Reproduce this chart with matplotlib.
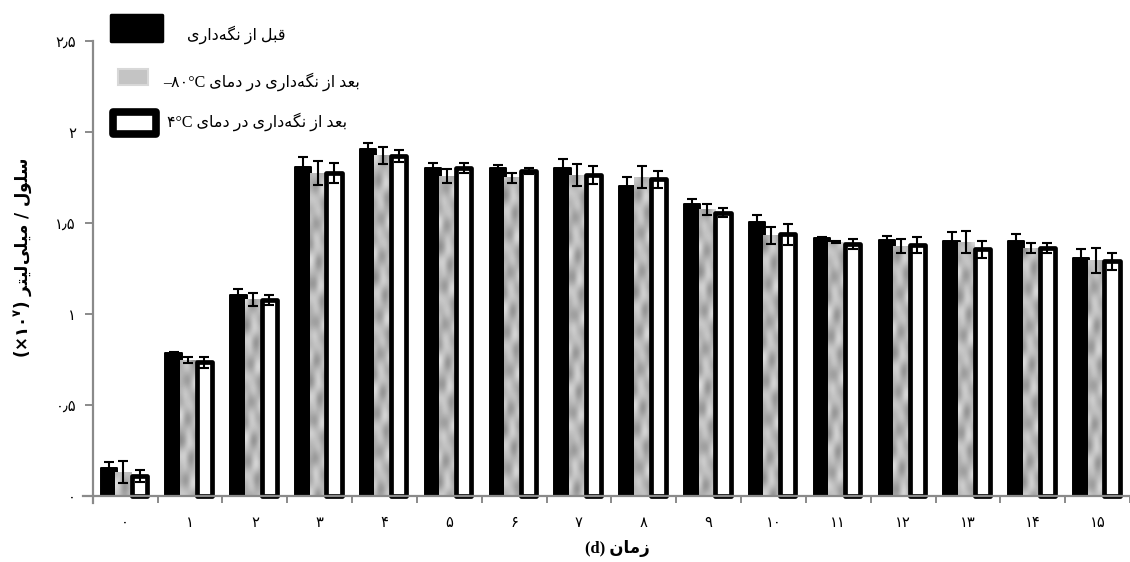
import numpy as np
import matplotlib
matplotlib.use('Agg')
import matplotlib.pyplot as plt
from matplotlib.patches import Rectangle

# Data (cells x10^7 per ml)
days = list(range(16))
day_labels = ['۰', '۱', '۲', '۳', '۴', '۵', '۶', '۷', '۸', '۹',
              '۱۰', '۱۱', '۱۲', '۱۳', '۱۴', '۱۵']
before = [0.15, 0.787, 1.104, 1.805, 1.905, 1.804, 1.80, 1.80,
          1.703, 1.603, 1.504, 1.416, 1.407, 1.401, 1.401, 1.306]
before_err = [0.033, 0.005, 0.031, 0.055, 0.033, 0.027, 0.02, 0.05,
              0.051, 0.031, 0.04, 0.005, 0.022, 0.051, 0.038, 0.049]
frozen = [0.13, 0.747, 1.079, 1.775, 1.871, 1.758, 1.749, 1.763,
          1.752, 1.575, 1.431, 1.396, 1.374, 1.393, 1.363, 1.292]
frozen_err = [0.06, 0.018, 0.035, 0.066, 0.048, 0.037, 0.027, 0.06,
              0.061, 0.03, 0.048, 0.007, 0.037, 0.06, 0.029, 0.069]
fridge = [0.11, 0.733, 1.077, 1.776, 1.868, 1.804, 1.786, 1.764,
          1.74, 1.557, 1.438, 1.383, 1.379, 1.355, 1.364, 1.288]
fridge_err = [0.033, 0.032, 0.027, 0.055, 0.033, 0.027, 0.015, 0.049,
              0.047, 0.024, 0.057, 0.029, 0.046, 0.046, 0.027, 0.046]
y_ticks = [0, 0.5, 1, 1.5, 2, 2.5]
y_labels = ['۰', '۰٫۵', '۱', '۱٫۵', '۲', '۲٫۵']

leg_before = 'قبل از نگه\u200cداری'
leg_after = 'بعد از نگه\u200cداری در دمای'
ylab_text = 'سلول / میلی\u200cلیتر'
xlab_text = 'زمان'

# tiny arabic shaper (matplotlib has no shaping / bidi)
FORMS = {
    'ا': ('\uFE8D', '\uFE8E', None, None),
    'ب': ('\uFE8F', '\uFE90', '\uFE91', '\uFE92'),
    'ت': ('\uFE95', '\uFE96', '\uFE97', '\uFE98'),
    'د': ('\uFEA9', '\uFEAA', None, None),
    'ر': ('\uFEAD', '\uFEAE', None, None),
    'ز': ('\uFEAF', '\uFEB0', None, None),
    'س': ('\uFEB1', '\uFEB2', '\uFEB3', '\uFEB4'),
    'ع': ('\uFEC9', '\uFECA', '\uFECB', '\uFECC'),
    'ق': ('\uFED5', '\uFED6', '\uFED7', '\uFED8'),
    'ل': ('\uFEDD', '\uFEDE', '\uFEDF', '\uFEE0'),
    'م': ('\uFEE1', '\uFEE2', '\uFEE3', '\uFEE4'),
    'ن': ('\uFEE5', '\uFEE6', '\uFEE7', '\uFEE8'),
    'ه': ('\uFEE9', '\uFEEA', '\uFEEB', '\uFEEC'),
    'و': ('\uFEED', '\uFEEE', None, None),
    '\u06CC': ('\uFBFC', '\uFBFD', '\uFBFE', '\uFBFF'),
    'گ': ('\uFB92', '\uFB93', '\uFB94', '\uFB95'),
}


def rtl(s):
    s = s.replace('\u064A', '\u06CC')
    out = []
    for i, ch in enumerate(s):
        if ch not in FORMS:
            if ch != '\u200c':
                out.append(ch)
            continue
        prev = s[i - 1] if i > 0 else ''
        nxt = s[i + 1] if i + 1 < len(s) else ''
        j_prev = prev in FORMS and FORMS[prev][2] is not None
        j_next = FORMS[ch][2] is not None and nxt in FORMS
        iso, fin, ini, med = FORMS[ch]
        if j_prev and j_next:
            out.append(med)
        elif j_prev:
            out.append(fin)
        elif j_next:
            out.append(ini)
        else:
            out.append(iso)
    return ''.join(reversed(out))


W, H = 1130, 562
fig = plt.figure(figsize=(W / 100, H / 100), dpi=100)
ax = fig.add_axes([83 / W, 1 - 503 / H, 1047 / W, 462 / H])

x = np.arange(len(days))
bw = 0.25
axis_col = '#8a8a8a'

ax.bar(x - 0.253, before, bw, color='black', edgecolor='black', lw=1.4,
       joinstyle='round', zorder=2)
gb = ax.bar(x - 0.03, frozen, bw, color='#bcbcbc', lw=0, zorder=2)

# mottled texture for the grey bars (deterministic, just styling)
ty, tx = np.mgrid[0:140, 0:5].astype(float)
tex = (np.sin(tx * 1.1 + ty * 0.55) + 0.9 * np.sin(ty * 0.75 - tx * 1.4)
       + 0.6 * np.sin(ty * 0.33 + tx * 1.9) + 0.4 * np.sin(ty * 1.3 + tx * 0.7))
for i, r in enumerate(gb):
    h = r.get_height()
    rows = max(2, int(h * 182 / 4))
    x0 = r.get_x()
    off = (i * 13) % 50
    ax.imshow(tex[off:off + rows], extent=(x0, x0 + r.get_width(), 0, h), cmap='gray',
              vmin=-10.5, vmax=4.2, aspect='auto', interpolation='bicubic',
              zorder=2.1)

ax.bar(x + 0.222, fridge, bw * 0.93, color='white', edgecolor='black', lw=3.4,
       joinstyle='round', zorder=2.2)

ekw = dict(fmt='none', ecolor='black', elinewidth=1.5, capsize=3.6, capthick=1.5,
           zorder=3)
ax.errorbar(x - 0.253, before, yerr=before_err, **ekw)
ax.errorbar(x - 0.03, frozen, yerr=frozen_err, **ekw)
ax.errorbar(x + 0.222, fridge, yerr=fridge_err, **ekw)

ax.set_xlim(-0.65, -0.65 + 1047 / 65.1)
ax.set_ylim(-0.04, 2.5)

for s in ['top', 'right']:
    ax.spines[s].set_visible(False)
ax.spines['left'].set_position(('data', -0.5))
ax.spines['left'].set_bounds(-0.04, 2.5)
ax.spines['bottom'].set_position(('data', 0))
for s in ['left', 'bottom']:
    ax.spines[s].set_color(axis_col)
    ax.spines[s].set_linewidth(1.6)

ax.set_xticks(x)
ax.set_xticklabels(day_labels, family='DejaVu Sans', fontsize=10.5)
ax.set_xticks(np.arange(-0.5, 16, 1), minor=True)
ax.tick_params(axis='x', which='major', length=0, pad=14)
ax.tick_params(axis='x', which='minor', length=5, width=1.4, color=axis_col)
ax.set_yticks(y_ticks)
ax.set_yticklabels(y_labels, family='DejaVu Sans', fontsize=10.5)
ax.tick_params(axis='y', direction='out', length=6, width=1.4, color=axis_col, pad=6)

ax.set_xlabel('(d) ' + rtl(xlab_text), family=['Liberation Serif', 'DejaVu Sans'],
              fontsize=12, fontweight='bold')
ax.xaxis.set_label_coords(0.51, -0.08)

ax.set_ylabel('(×۱۰$^{\\mathregular{۷}}$) ' + rtl(ylab_text), family='DejaVu Sans',
              fontsize=12, fontweight='bold')
ax.yaxis.label.set_va('center')
ax.yaxis.set_label_coords(-0.057, 0.53)


# legend drawn by hand in pixel positions
def fx(px):
    return px / W


def fy(py):
    return 1 - py / H


fig.patches.append(Rectangle((fx(111), fy(41)), fx(51), 26 / H, transform=fig.transFigure,
                             facecolor='black', edgecolor='black', lw=2.5,
                             joinstyle='round'))
fig.patches.append(Rectangle((fx(118), fy(85)), fx(30), 16 / H, transform=fig.transFigure,
                             facecolor='#c4c4c4', edgecolor='#d8d8d8', lw=1.5))
fig.patches.append(Rectangle((fx(113), fy(134)), fx(43), 22 / H, transform=fig.transFigure,
                             facecolor='white', edgecolor='black', lw=5.5,
                             joinstyle='round'))

leg_fam = ['Liberation Serif', 'DejaVu Sans']
fig.text(fx(187), fy(35), rtl(leg_before), family=leg_fam, fontsize=11.5, va='center')
fig.text(fx(163), fy(82), '–۸۰°C ' + rtl(leg_after), family=leg_fam, fontsize=11.5,
         va='center')
fig.text(fx(167), fy(122), '۴°C ' + rtl(leg_after), family=leg_fam, fontsize=11.5,
         va='center')

fig.savefig('out.png', dpi=100)
